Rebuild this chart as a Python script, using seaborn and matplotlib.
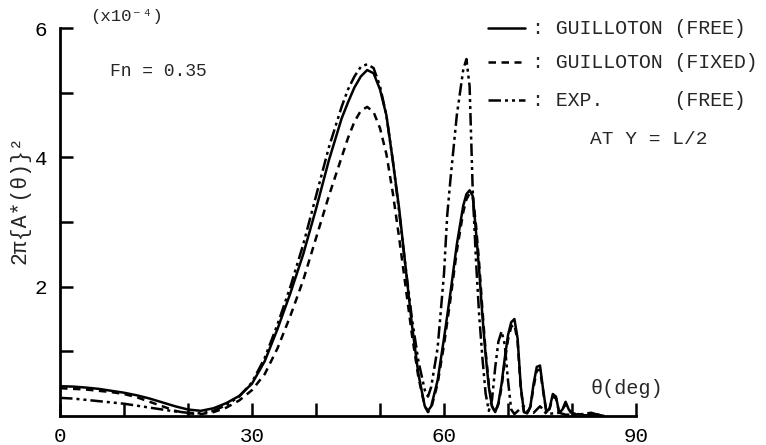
import matplotlib
matplotlib.use("Agg")
import matplotlib.pyplot as plt
import seaborn as sns
import pandas as pd
from matplotlib.lines import Line2D

# ---------------- data ----------------
free_theta = [0, 2, 4, 6, 8, 10, 12, 14, 16, 18, 20, 22, 24, 26, 28, 30, 32, 34, 36, 38,
              40, 42, 44, 45, 46, 47, 48, 49, 50, 51, 52, 53, 54, 55, 56, 57, 57.5, 58, 59,
              60, 61, 62, 63, 63.5, 64, 64.5, 65, 65.5, 66, 66.5, 67, 67.5, 68, 68.5, 69,
              69.5, 70, 70.5, 71, 71.5, 72, 72.5, 73, 73.5, 74, 74.5, 75, 75.5, 76, 76.5,
              77, 77.5, 78, 78.5, 79, 79.5, 80, 80.5, 81, 82, 84, 85]
free_val = [0.46, 0.455, 0.44, 0.42, 0.39, 0.36, 0.32, 0.27, 0.21, 0.15, 0.10, 0.08, 0.12,
            0.20, 0.31, 0.50, 0.85, 1.35, 1.90, 2.50, 3.20, 3.95, 4.60, 4.85, 5.08, 5.25,
            5.35, 5.30, 5.05, 4.65, 3.95, 3.20, 2.30, 1.40, 0.65, 0.15, 0.08, 0.15, 0.55,
            1.20, 1.90, 2.65, 3.25, 3.43, 3.49, 3.40, 2.85, 2.25, 1.55, 0.95, 0.45, 0.15,
            0.06, 0.20, 0.50, 0.90, 1.25, 1.45, 1.50, 1.20, 0.45, 0.06, 0.04, 0.15, 0.50,
            0.76, 0.78, 0.40, 0.06, 0.12, 0.34, 0.30, 0.05, 0.10, 0.22, 0.10, 0.05, 0.02,
            0.03, 0.01, 0.02, 0.0]

fixed_theta = [0, 2, 4, 6, 8, 10, 12, 14, 16, 18, 20, 22, 24, 26, 28, 30, 32, 34, 36, 38,
               40, 42, 44, 45, 46, 47, 48, 49, 50, 51, 52, 53, 54, 55, 56, 57, 57.5, 58, 59,
               60, 61, 62, 63, 63.5, 64, 64.5, 65, 65.5, 66, 66.5, 67, 67.5, 68, 68.5, 69,
               69.5, 70, 70.5, 71, 71.5, 72, 72.5, 73, 73.5, 74, 74.5, 75, 75.5, 76, 76.5,
               77, 77.5, 78, 78.5, 79, 79.5, 80, 81, 82, 84, 85]
fixed_val = [0.43, 0.42, 0.41, 0.39, 0.37, 0.34, 0.29, 0.22, 0.15, 0.08, 0.04, 0.03, 0.06,
             0.13, 0.24, 0.40, 0.65, 1.05, 1.55, 2.10, 2.75, 3.40, 4.00, 4.30, 4.55, 4.72,
             4.78, 4.70, 4.45, 4.05, 3.45, 2.75, 2.00, 1.25, 0.60, 0.15, 0.06, 0.12, 0.50,
             1.10, 1.80, 2.55, 3.15, 3.35, 3.44, 3.40, 2.95, 2.35, 1.65, 1.00, 0.50, 0.15,
             0.06, 0.18, 0.45, 0.85, 1.18, 1.38, 1.42, 1.15, 0.42, 0.06, 0.04, 0.14, 0.45,
             0.70, 0.72, 0.38, 0.06, 0.11, 0.30, 0.27, 0.05, 0.09, 0.19, 0.09, 0.04, 0.03,
             0.01, 0.02, 0.0]

exp_theta = [0, 2, 4, 6, 8, 10, 12, 14, 16, 18, 20, 22, 24, 26, 28, 30, 32, 34, 36, 38,
             40, 42, 44, 45, 46, 47, 48, 49, 50, 51, 52, 53, 54, 55, 56, 57, 57.5, 58, 59,
             60, 60.5, 61, 62, 63, 63.5, 64, 64.5, 65, 65.5, 66, 66.5, 67, 67.5, 68, 68.5,
             69, 69.5, 70, 70.5, 71, 72, 72.5, 73, 74, 75, 75.5, 76, 78, 79, 81, 83, 84, 85]
exp_val = [0.28, 0.27, 0.25, 0.23, 0.21, 0.19, 0.16, 0.13, 0.10, 0.07, 0.05, 0.04, 0.08,
           0.17, 0.30, 0.52, 0.90, 1.42, 2.00, 2.65, 3.40, 4.15, 4.78, 5.05, 5.25, 5.40,
           5.44, 5.38, 5.10, 4.65, 3.95, 3.15, 2.30, 1.50, 0.85, 0.40, 0.30, 0.45, 1.05,
           2.20, 3.10, 3.65, 4.65, 5.35, 5.52, 5.10, 3.45, 2.40, 1.55, 0.90, 0.35, 0.08,
           0.25, 0.75, 1.15, 1.31, 1.10, 0.55, 0.10, 0.03, 0.12, 0.15, 0.08, 0.05, 0.15,
           0.10, 0.03, 0.05, 0.02, 0.02, 0.05, 0.02, 0.0]

x_ticks = [0, 10, 20, 30, 40, 50, 60, 70, 80, 90]
x_labels = ["0", "", "", "30", "", "", "60", "", "", "90"]
y_ticks = [1, 2, 3, 4, 5, 6]
y_labels = ["", "2", "", "4", "", "6"]

# ---------------- figure ----------------
sns.set_style("white")
plt.rcParams["font.family"] = ["Liberation Mono", "DejaVu Sans Mono"]

W, H = 766, 445
fig = plt.figure(figsize=(W / 100, H / 100), dpi=100)
ax = fig.add_axes([60 / W, 29 / H, 576 / W, 388 / H])

df_free = pd.DataFrame({"theta": free_theta, "val": free_val})
df_fixed = pd.DataFrame({"theta": fixed_theta, "val": fixed_val})
df_exp = pd.DataFrame({"theta": exp_theta, "val": exp_val})

lw = 1.8
dash_fixed = (0, (3.0, 2.2))
dash_exp = (0, (5, 1.6, 1.2, 1.6, 1.2, 1.6))
sns.lineplot(data=df_free, x="theta", y="val", ax=ax, color="black", lw=lw,
             estimator=None, sort=False)
sns.lineplot(data=df_fixed, x="theta", y="val", ax=ax, color="black", lw=lw,
             estimator=None, sort=False, linestyle=dash_fixed)
sns.lineplot(data=df_exp, x="theta", y="val", ax=ax, color="black", lw=lw,
             estimator=None, sort=False, linestyle=dash_exp)

ax.set_xlim(0, 90)
ax.set_ylim(0, 6)
ax.set_xticks(x_ticks)
ax.set_xticklabels(x_labels)
ax.set_yticks(y_ticks)
ax.set_yticklabels(y_labels)
ax.set_xlabel("")
ax.set_ylabel("")
for s in ["top", "right"]:
    ax.spines[s].set_visible(False)
for s in ["left", "bottom"]:
    ax.spines[s].set_linewidth(2.0)
    ax.spines[s].set_color("black")
ax.tick_params(axis="both", direction="in", length=9.5, width=1.8, colors="black",
               labelsize=15, bottom=True, left=True, top=False, right=False)
ax.tick_params(axis="y", pad=9)
ax.tick_params(axis="x", pad=8)
ax.set_facecolor("white")

# ---------------- annotations ----------------
def fx(px):
    return px / W


def fy(py):
    return 1 - py / H


mono = ["Liberation Mono", "DejaVu Sans Mono"]
fig.text(fx(90), fy(17), "(x10\u207b\u2074)", family=mono, fontsize=12.5, va="center", ha="left")
fig.text(fx(110), fy(71), "Fn = 0.35", family=mono, fontsize=13, va="center", ha="left")
fig.text(fx(20), fy(200), "2\u03c0{A*(\u03b8)}\u00b2", family=mono, fontsize=15.5,
         rotation=90, va="center", ha="center")
fig.text(fx(590), fy(389), "\u03b8(deg)", family=mono, fontsize=14.5, va="center", ha="left")

rows = [(28, "-", ": GUILLOTON (FREE)", 525),
        (62, dash_fixed, ": GUILLOTON (FIXED)", 521),
        (100, dash_exp, ": EXP.      (FREE)", 525)]
for py, ls, txt, x1 in rows:
    fig.add_artist(Line2D([fx(488), fx(x1)], [fy(py), fy(py)], color="black", lw=lw,
                          linestyle=ls, transform=fig.transFigure))
    fig.text(fx(532), fy(py), txt, family=mono, fontsize=14.3, va="center", ha="left")
fig.text(fx(590), fy(140), "AT Y = L/2", family=mono, fontsize=14, va="center", ha="left")

fig.savefig("out.png", dpi=100, facecolor="white")
